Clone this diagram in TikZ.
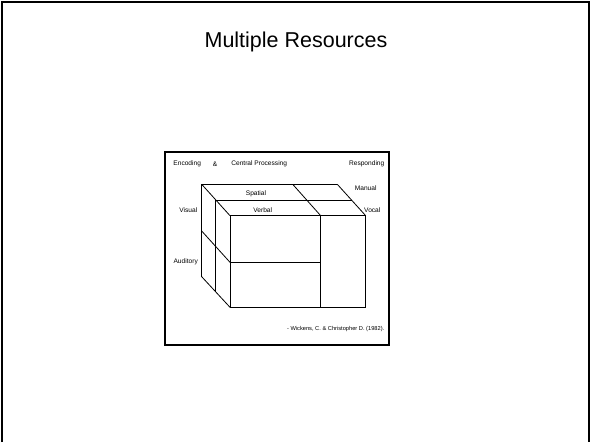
\documentclass[tikz,border=0pt]{standalone}
\usepackage{fontspec}
\setmainfont{Liberation Sans}
\usetikzlibrary{positioning}

\begin{document}
\begin{tikzpicture}[x=1pt,y=-1pt,
    lbl/.style={font=\fontsize{6.6}{7}\selectfont,inner sep=0pt},
    cube line/.style={line width=0.8pt}]
  \useasboundingbox (0,0) rectangle (592,442);

  % slide frame, open at the bottom
  \draw[line width=2.5pt] (2,442) |- (589,2) -- (589,442);
  \node[font=\fontsize{21.5}{24}\selectfont] (title) at (296,42) {Multiple Resources};

  % figure frame
  \draw[line width=1.6pt] (165,152) rectangle (389,345);

  % corners of the cube
  \coordinate (b1) at (201.7,184.3);
  \coordinate (b2) at (292.7,184.3);
  \coordinate (b3) at (337.3,184.3);
  \coordinate (b4) at (201.7,231);
  \coordinate (b5) at (201.7,276.7);
  \coordinate (m1) at (215.7,200.7);
  \coordinate (m2) at (351.7,200.7);
  \coordinate (m3) at (215.7,291.7);
  \coordinate (f1) at (230,215.7);
  \coordinate (f2) at (320.7,215.7);
  \coordinate (f3) at (365.7,215.7);
  \coordinate (f4) at (230,262.3);
  \coordinate (f5) at (320.7,262.3);
  \coordinate (f6) at (230,307.3);
  \coordinate (f7) at (320.7,307.3);
  \coordinate (f8) at (365.7,307.3);

  \draw[cube line] (b5) -- (b1) -- (b3);
  \draw[cube line] (m3) -- (m1) -- (m2);
  \draw[cube line] (b1) -- (f1) (b2) -- (f2) (b3) -- (f3)
                   (b4) -- (f4) (b5) -- (f6);
  \draw[cube line] (f1) -- (f3) -- (f8) -- (f6) -- cycle;
  \draw[cube line] (f2) -- (f7) (f4) -- (f5);

  % labels
  \node[lbl] (enc) at (187.2,164) {Encoding};
  \node[lbl] (amp) at (215,164) {\&};
  \node[lbl] (cp) at (259.2,164) {Central Processing};
  \node[lbl] (resp) at (366.7,164) {Responding};
  \node[lbl] (spat) at (256,193.3) {Spatial};
  \node[lbl] (man) at (365.7,188.3) {Manual};
  \node[lbl] (vis) at (188.3,210) {Visual};
  \node[lbl] (verb) at (262.7,210) {Verbal};
  \node[lbl] (voc) at (372.3,210) {Vocal};
  \node[lbl] (aud) at (185.7,261.7) {Auditory};
  \node[lbl,font=\fontsize{5.7}{6}\selectfont,anchor=east] (ref) at (384.5,329) {- Wickens, C. \& Christopher D. (1982).};
\end{tikzpicture}
\end{document}
